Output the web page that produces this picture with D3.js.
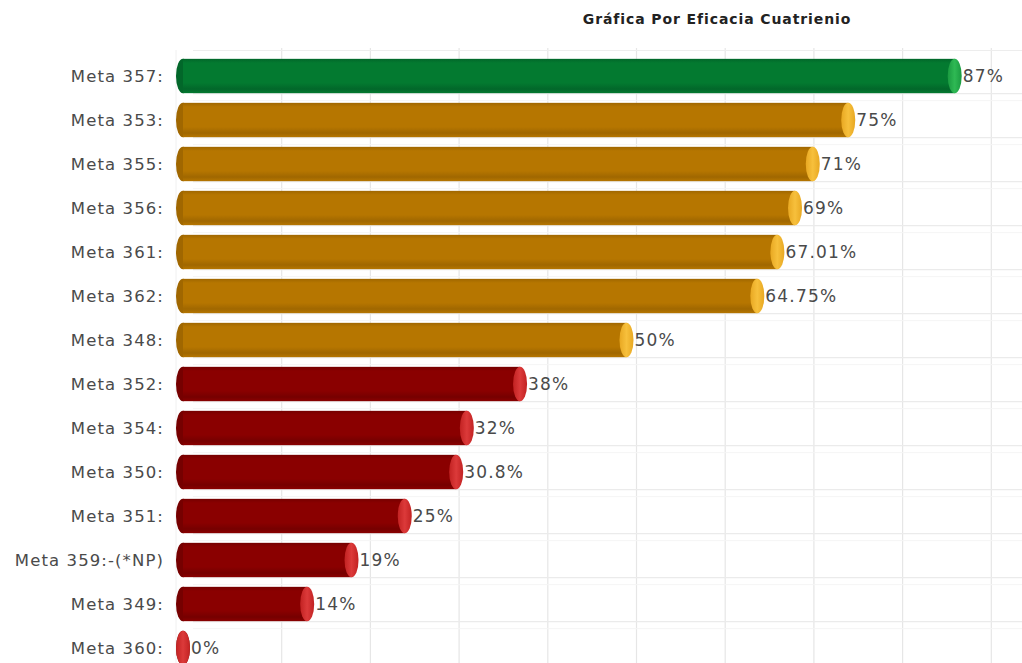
<!DOCTYPE html>
<html>
<head>
<meta charset="utf-8">
<script src="https://cdn.jsdelivr.net/npm/d3@7"></script>
<style>
  html, body { margin: 0; padding: 0; background: #fff; }
  svg { display: block; }
</style>
</head>
<body>
<svg id="chart" width="1022" height="663"></svg>
<script>
const title = "Gráfica Por Eficacia Cuatrienio";
const categories = ["Meta 357:", "Meta 353:", "Meta 355:", "Meta 356:", "Meta 361:", "Meta 362:", "Meta 348:",
  "Meta 352:", "Meta 354:", "Meta 350:", "Meta 351:", "Meta 359:-(*NP)", "Meta 349:", "Meta 360:"];
const values = [87, 75, 71, 69, 67.01, 64.75, 50, 38, 32, 30.8, 25, 19, 14, 0];
const valueLabels = ["87%", "75%", "71%", "69%", "67.01%", "64.75%", "50%", "38%", "32%", "30.8%", "25%", "19%", "14%", "0%"];
const gridTicks = [10, 20, 30, 40, 50, 60, 70, 80, 90];

const svg = d3.select("#chart");
const W = 1022, H = 663;

const x = d3.scaleLinear().domain([0, 100]).range([183, 1070]);
const y = d3.scaleBand().domain(categories).range([54, 670]).paddingInner(0.22).paddingOuter(0.11);
const depth = 10;

function palette(v) {
  if (v >= 80) return { body: "#037a30", dark: "#02672a", cap: "#2fb954", capDark: "#1a9a40" };
  if (v >= 40) return { body: "#b67600", dark: "#a06700", cap: "#f7c03c", capDark: "#e8a822" };
  return { body: "#8a0000", dark: "#760000", cap: "#dc3a3a", capDark: "#c22222" };
}

const defs = svg.append("defs");
["g", "o", "r"].forEach((k, i) => {
  const p = palette([90, 50, 10][i]);
  const lg = defs.append("linearGradient").attr("id", "body-" + k).attr("x1", 0).attr("y1", 0).attr("x2", 0).attr("y2", 1);
  lg.append("stop").attr("offset", "0%").attr("stop-color", p.dark);
  lg.append("stop").attr("offset", "12%").attr("stop-color", p.body);
  lg.append("stop").attr("offset", "70%").attr("stop-color", p.body);
  lg.append("stop").attr("offset", "88%").attr("stop-color", p.dark);
  lg.append("stop").attr("offset", "100%").attr("stop-color", p.body);
  const cg = defs.append("linearGradient").attr("id", "cap-" + k).attr("x1", 0).attr("y1", 0).attr("x2", 1).attr("y2", 0);
  cg.append("stop").attr("offset", "0%").attr("stop-color", p.capDark);
  cg.append("stop").attr("offset", "50%").attr("stop-color", p.cap);
  cg.append("stop").attr("offset", "100%").attr("stop-color", p.capDark);
});
function key(v) { return v >= 80 ? "g" : (v >= 40 ? "o" : "r"); }

// background grid (back wall)
const grid = svg.append("g");
grid.selectAll("line.v").data(gridTicks).join("line")
  .attr("x1", d => x(d) + depth).attr("x2", d => x(d) + depth)
  .attr("y1", 48).attr("y2", H)
  .attr("stroke", "#e6e6e6").attr("stroke-width", 1.2);
grid.selectAll("line.h").data(categories).join("line")
  .attr("x1", x(0) + depth).attr("x2", W)
  .attr("y1", d => y(d) + y.bandwidth() + 0.5).attr("y2", d => y(d) + y.bandwidth() + 0.5)
  .attr("stroke", "#ebebeb").attr("stroke-width", 1.2);
grid.selectAll("line.h2").data(categories).join("line")
  .attr("x1", x(0) + depth).attr("x2", W)
  .attr("y1", d => y(d) + y.bandwidth() + 7.5).attr("y2", d => y(d) + y.bandwidth() + 7.5)
  .attr("stroke", "#f5f5f5").attr("stroke-width", 1);
grid.append("line").attr("x1", x(0) + depth).attr("x2", W).attr("y1", 50.5).attr("y2", 50.5)
  .attr("stroke", "#ededed");
grid.append("line").attr("x1", x(0) - 7).attr("x2", x(0) - 7).attr("y1", 50).attr("y2", H)
  .attr("stroke", "#f0f0f0");

// title
svg.append("text").attr("x", 717).attr("y", 24).attr("text-anchor", "middle")
  .attr("font-family", "DejaVu Sans, Verdana, sans-serif").attr("font-weight", "bold")
  .attr("font-size", 14).attr("letter-spacing", 0.9).attr("fill", "#222").text(title);

// category labels
svg.append("g").selectAll("text").data(categories).join("text")
  .attr("x", 164).attr("y", d => y(d) + y.bandwidth() / 2)
  .attr("dy", "0.36em").attr("text-anchor", "end")
  .attr("font-family", "DejaVu Sans, Verdana, sans-serif").attr("font-size", 16.5)
  .attr("letter-spacing", 1.1)
  .attr("fill", "#4a4a4a").text(d => d);

// bars
const rx = 7;
const bars = svg.append("g").selectAll("g").data(values).join("g");
bars.append("ellipse")
  .attr("cx", x(0)).attr("cy", (d, i) => y(categories[i]) + y.bandwidth() / 2)
  .attr("rx", rx).attr("ry", y.bandwidth() / 2)
  .attr("fill", d => palette(d).dark);
bars.append("rect")
  .attr("x", x(0)).attr("y", (d, i) => y(categories[i]))
  .attr("width", d => x(d) - x(0)).attr("height", y.bandwidth())
  .attr("fill", d => "url(#body-" + key(d) + ")");
bars.append("ellipse")
  .attr("cx", d => x(d)).attr("cy", (d, i) => y(categories[i]) + y.bandwidth() / 2)
  .attr("rx", rx).attr("ry", y.bandwidth() / 2)
  .attr("fill", d => "url(#cap-" + key(d) + ")");

// value labels
svg.append("g").selectAll("text").data(values).join("text")
  .attr("x", d => x(d) + rx + 1).attr("y", (d, i) => y(categories[i]) + y.bandwidth() / 2)
  .attr("dy", "0.36em")
  .attr("font-family", "DejaVu Sans, Verdana, sans-serif").attr("font-size", 17)
  .attr("letter-spacing", 1.2)
  .attr("fill", "#4a4a4a").text((d, i) => valueLabels[i]);
</script>
</body>
</html>
